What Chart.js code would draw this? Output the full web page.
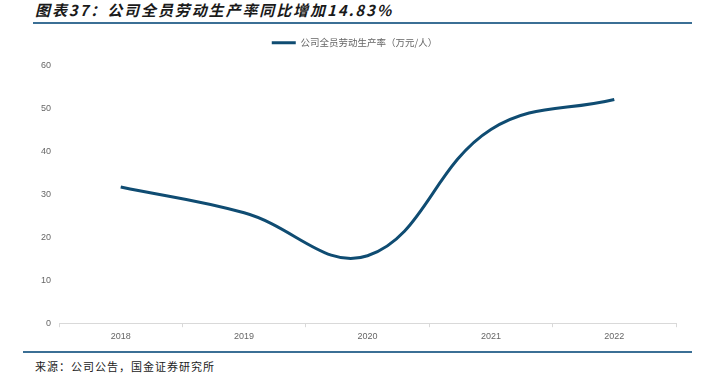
<!DOCTYPE html>
<html>
<head>
<meta charset="utf-8">
<script src="https://cdn.jsdelivr.net/npm/chart.js@4.4.0/dist/chart.umd.min.js"></script>
<style>
    body { margin: 0; background: #fff; width: 705px; height: 386px; position: relative; overflow: hidden; }
    #title { position: absolute; left: 35px; top: -1px; font: italic bold 15px "Noto Sans CJK SC", sans-serif; letter-spacing: 1.9px; color: #1a1a1a; }
    #topLine { position: absolute; left: 33px; top: 22px; width: 659px; height: 2px; background: #3b6f95; }
    #bottomLine { position: absolute; left: 23px; top: 351px; width: 669px; height: 2px; background: #3b6f95; }
    #source { position: absolute; left: 35px; top: 358px; font: 11px "Noto Sans CJK SC", sans-serif; letter-spacing: 1px; color: #222; }
    #wrap { position: absolute; left: 0; top: 30px; width: 705px; height: 316px; }
</style>
</head>
<body>
<div id="title">图表37：公司全员劳动生产率同比增加14.83%</div>
<div id="topLine"></div>
<div id="wrap"><canvas id="ProductivityChart"></canvas></div>
<div id="bottomLine"></div>
<div id="source">来源：公司公告，国金证券研究所</div>

<script>
var years = ['2018', '2019', '2020', '2021', '2022'];
var productivity = [31.7, 25.7, 15.7, 45.1, 52.1];
var seriesName = '公司全员劳动生产率（万元/人）';

var lineColor = '#0f4c72';
var labelColor = '#666666';
var axisColor = '#d9d9d9';
var fontFamily = '"Liberation Sans", Arial, "Noto Sans CJK SC", sans-serif';

var ctx = document.getElementById('ProductivityChart');

new Chart(ctx, {
    type: 'line',
    data: {
        labels: years,
        datasets: [{
            label: seriesName,
            data: productivity,
            borderColor: lineColor,
            backgroundColor: lineColor,
            borderWidth: 3,
            pointRadius: 0,
            tension: 0.4,
            fill: false
        }]
    },
    options: {
        responsive: true,
        maintainAspectRatio: false,
        animation: false,
        layout: {
            padding: { left: 33, right: 29, top: 0, bottom: 0 }
        },
        plugins: {
            legend: {
                position: 'top',
                labels: {
                    usePointStyle: true,
                    pointStyle: 'line',
                    pointStyleWidth: 24,
                    color: labelColor,
                    font: { size: 9.5, family: '"Noto Sans CJK SC", sans-serif' },
                    padding: 8
                }
            },
            tooltip: { enabled: false }
        },
        scales: {
            x: {
                offset: true,
                grid: {
                    display: true,
                    drawOnChartArea: false,
                    drawTicks: true,
                    tickLength: 4,
                    color: axisColor,
                    offset: true
                },
                border: { color: axisColor },
                ticks: {
                    color: labelColor,
                    font: { size: 9, family: fontFamily },
                    padding: 4
                }
            },
            y: {
                min: 0,
                max: 60,
                grid: { display: false, drawTicks: false },
                border: { display: false },
                ticks: {
                    stepSize: 10,
                    color: labelColor,
                    font: { size: 9, family: fontFamily },
                    padding: 8
                }
            }
        }
    },
    plugins: [{
        id: 'legendGap',
        beforeInit: function (chart) {
            var fit = chart.legend.fit;
            chart.legend.fit = function () {
                fit.bind(chart.legend)();
                this.height += 8;
            };
        }
    }]
});
</script>
</body>
</html>
